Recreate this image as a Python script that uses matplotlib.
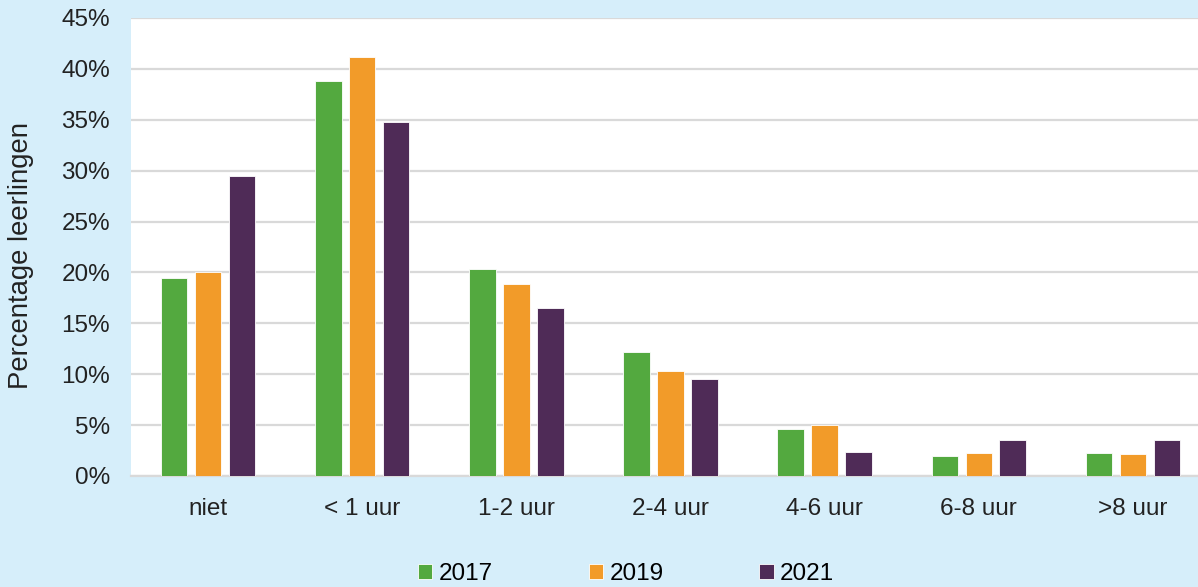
import numpy as np
import matplotlib.pyplot as plt
from matplotlib.ticker import FuncFormatter

plt.rcParams['font.family'] = ['Liberation Sans', 'DejaVu Sans']

categories = ["niet", "< 1 uur", "1-2 uur", "2-4 uur", "4-6 uur", "6-8 uur", ">8 uur"]
years = ["2017", "2019", "2021"]
v2017 = [19.5, 38.8, 20.3, 12.2, 4.6, 2.0, 2.3]
v2019 = [20.0, 41.2, 18.9, 10.3, 5.0, 2.3, 2.2]
v2021 = [29.5, 34.8, 16.5, 9.5, 2.4, 3.5, 3.5]
colors = ["#53A93F", "#F29B29", "#4F2B57"]

bg = "#D6EEFA"
fig = plt.figure(figsize=(11.98, 5.87), dpi=100, facecolor=bg)
ax = fig.add_axes([131/1198, 1 - 476/587, 1079/1198, 458/587])
ax.set_facecolor("white")

x = np.arange(len(categories))
width = 0.172
step = 0.22
for i, (vals, col, yr) in enumerate(zip([v2017, v2019, v2021], colors, years)):
    ax.bar(x + (i - 1) * step, vals, width, color=col, label=yr,
           edgecolor="white", linewidth=0.6, zorder=3)

ax.set_xlim(-0.5, len(categories) - 0.5)
ax.set_ylim(0, 45)
ax.set_yticks(np.arange(0, 46, 5))
ax.yaxis.set_major_formatter(FuncFormatter(lambda v, p: f"{v:.0f}%"))
ax.grid(axis="y", color="#D9D9D9", linewidth=1.6, zorder=0)
for s in ["top", "right", "left"]:
    ax.spines[s].set_visible(False)
ax.spines["bottom"].set_color("#D9D9D9")
ax.spines["bottom"].set_linewidth(1.6)
ax.set_xticks(x)
ax.set_xticklabels(categories)
ax.tick_params(axis="both", length=0, labelsize=17.5, colors="#222222")
ax.tick_params(axis="y", pad=15)
ax.tick_params(axis="x", pad=16)
ax.set_ylabel("Percentage leerlingen", fontsize=19.8, color="#222222")
ax.yaxis.set_label_coords(-0.09, 0.482)

fig.legend(loc="center", bbox_to_anchor=(626/1198, 1 - 574/587), ncol=3,
           frameon=False, fontsize=17.5, handlelength=0.6, handleheight=0.6,
           handletextpad=0.25, columnspacing=3.95)

fig.savefig("out.png", dpi=100, facecolor=bg)
